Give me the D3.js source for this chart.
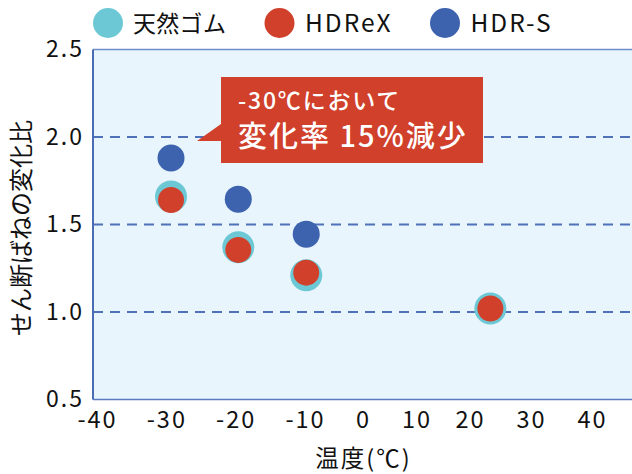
<!DOCTYPE html>
<html><head><meta charset="utf-8">
<script src="https://cdn.jsdelivr.net/npm/d3@7"></script>
<style>
html,body{margin:0;padding:0;background:#fff;}
svg{display:block;font-family:"Noto Sans CJK JP","Noto Sans",sans-serif;}
</style></head>
<body>
<svg id="c" width="632" height="474"></svg>
<script>
// ---- data ----
const seriesNames = ["天然ゴム", "HDReX", "HDR-S"];
const seriesColors = ["#6CC8D5", "#D0402B", "#3D62AE"];
const temps = [-29.9, -20.2, -10.4, 23.5];
const naturalRubber = [1.66, 1.37, 1.21, 1.02];
const hdrex = [1.64, 1.355, 1.225, 1.02];
const hdrs = [1.88, 1.645, 1.445, null];
const xTicks = [-40, -30, -20, -10, 0, 10, 20, 30, 40];
const yTicks = [0.5, 1.0, 1.5, 2.0, 2.5];
const yGrid = [1.0, 1.5, 2.0];
const xTitle = "温度(℃)";
const yTitle = "せん断ばねの変化比";
const calloutLines = ["-30℃において", "変化率 15%減少"];

// ---- layout ----
const svg = d3.select("#c");
const plot = {left: 93, right: 632, top: 49.5, bottom: 399.5};
const x = d3.scaleLinear().domain([-40, -10, 0, 20, 40]).range([101, 309, 362, 469, 591]);
const y = d3.scaleLinear().domain([0.5, 2.5]).range([plot.bottom, plot.top]);

svg.append("rect").attr("x", plot.left).attr("y", plot.top)
  .attr("width", plot.right - plot.left).attr("height", plot.bottom - plot.top)
  .attr("fill", "#E8F5FD");

// grid
svg.append("g").selectAll("line").data(yGrid).join("line")
  .attr("x1", plot.left).attr("x2", plot.right)
  .attr("y1", d => y(d)).attr("y2", d => y(d))
  .attr("stroke", "#4F71B8").attr("stroke-width", 2).attr("stroke-dasharray", "10,7");

// borders
svg.append("line").attr("x1", plot.left).attr("x2", plot.right).attr("y1", plot.top).attr("y2", plot.top)
  .attr("stroke", "#6F8FCB").attr("stroke-width", 1.5);
svg.append("line").attr("x1", plot.left).attr("x2", plot.right).attr("y1", plot.bottom).attr("y2", plot.bottom)
  .attr("stroke", "#5A7BC0").attr("stroke-width", 1.5);
svg.append("line").attr("x1", plot.left).attr("x2", plot.left).attr("y1", plot.top).attr("y2", plot.bottom)
  .attr("stroke", "#4A6CB4").attr("stroke-width", 2);

// axes
const LS = 2;
const fmtX = d => (d < 0 ? "-" + Math.abs(d) : String(d));
const gx = svg.append("g").attr("transform", `translate(0,${plot.bottom})`)
  .call(d3.axisBottom(x).tickValues(xTicks).tickFormat(fmtX).tickSize(0).tickPadding(12));
gx.select(".domain").remove();
gx.selectAll("text").attr("font-size", 23.5).attr("fill", "#111")
  .attr("font-family", '"Noto Sans CJK JP",sans-serif')
  .attr("letter-spacing", LS)
  .attr("dx", d => (d < 0 ? -5 : 0) + LS / 2);

const gy = svg.append("g").attr("transform", `translate(${plot.left},0)`)
  .call(d3.axisLeft(y).tickValues(yTicks).tickFormat(d3.format(".1f")).tickSize(0).tickPadding(11));
gy.select(".domain").remove();
gy.selectAll("text").attr("font-size", 23).attr("fill", "#111")
  .attr("font-family", '"Noto Sans CJK JP",sans-serif')
  .attr("letter-spacing", LS).attr("dx", LS);

// titles
svg.append("text").attr("x", (plot.left + plot.right) / 2 + 1).attr("y", 467)
  .attr("text-anchor", "middle").attr("font-size", 23.5).attr("letter-spacing", 2)
  .attr("fill", "#111").text(xTitle);
svg.append("text").attr("transform", "translate(30,228) rotate(-90)")
  .attr("text-anchor", "middle").attr("font-size", 24).attr("fill", "#111").text(yTitle);

// points
const series = [
  {vals: naturalRubber, color: seriesColors[0], r: 16},
  {vals: hdrex, color: seriesColors[1], r: 13},
  {vals: hdrs, color: seriesColors[2], r: 13.5}
];
series.forEach(s => {
  const pts = temps.map((t, i) => ({t, v: s.vals[i]})).filter(d => d.v != null);
  svg.append("g").selectAll("circle").data(pts).join("circle")
    .attr("cx", d => x(d.t)).attr("cy", d => y(d.v)).attr("r", s.r).attr("fill", s.color);
});

// callout
const co = {x: 221, y: 77, w: 262, h: 86};
svg.append("path")
  .attr("d", `M${co.x},${co.y}H${co.x+co.w}V${co.y+co.h}H${co.x}V141H197L${co.x},124Z`)
  .attr("fill", "#D0402B");
svg.append("text").attr("x", 238).attr("y", 109).attr("font-size", 23).attr("fill", "#fff")
  .attr("letter-spacing", 1.8).attr("font-weight", 500).text(calloutLines[0]);
svg.append("text").attr("x", 238).attr("y", 147).attr("font-size", 29).attr("fill", "#fff")
  .attr("letter-spacing", 2).attr("font-weight", 500).text(calloutLines[1]);

// legend
const legX = [108, 279.5, 445];
const lg = svg.append("g").selectAll("g").data(seriesNames).join("g")
  .attr("transform", (d, i) => `translate(${legX[i]},23)`);
lg.append("circle").attr("r", 15).attr("fill", (d, i) => seriesColors[i]);
lg.append("text").attr("x", (d, i) => i === 0 ? 25 : 25.5).attr("y", 9)
  .attr("font-size", (d, i) => i === 0 ? 23 : 24.5)
  .attr("letter-spacing", (d, i) => i === 0 ? 0.3 : 2)
  .attr("fill", "#111").text(d => d);
</script>
</body></html>
